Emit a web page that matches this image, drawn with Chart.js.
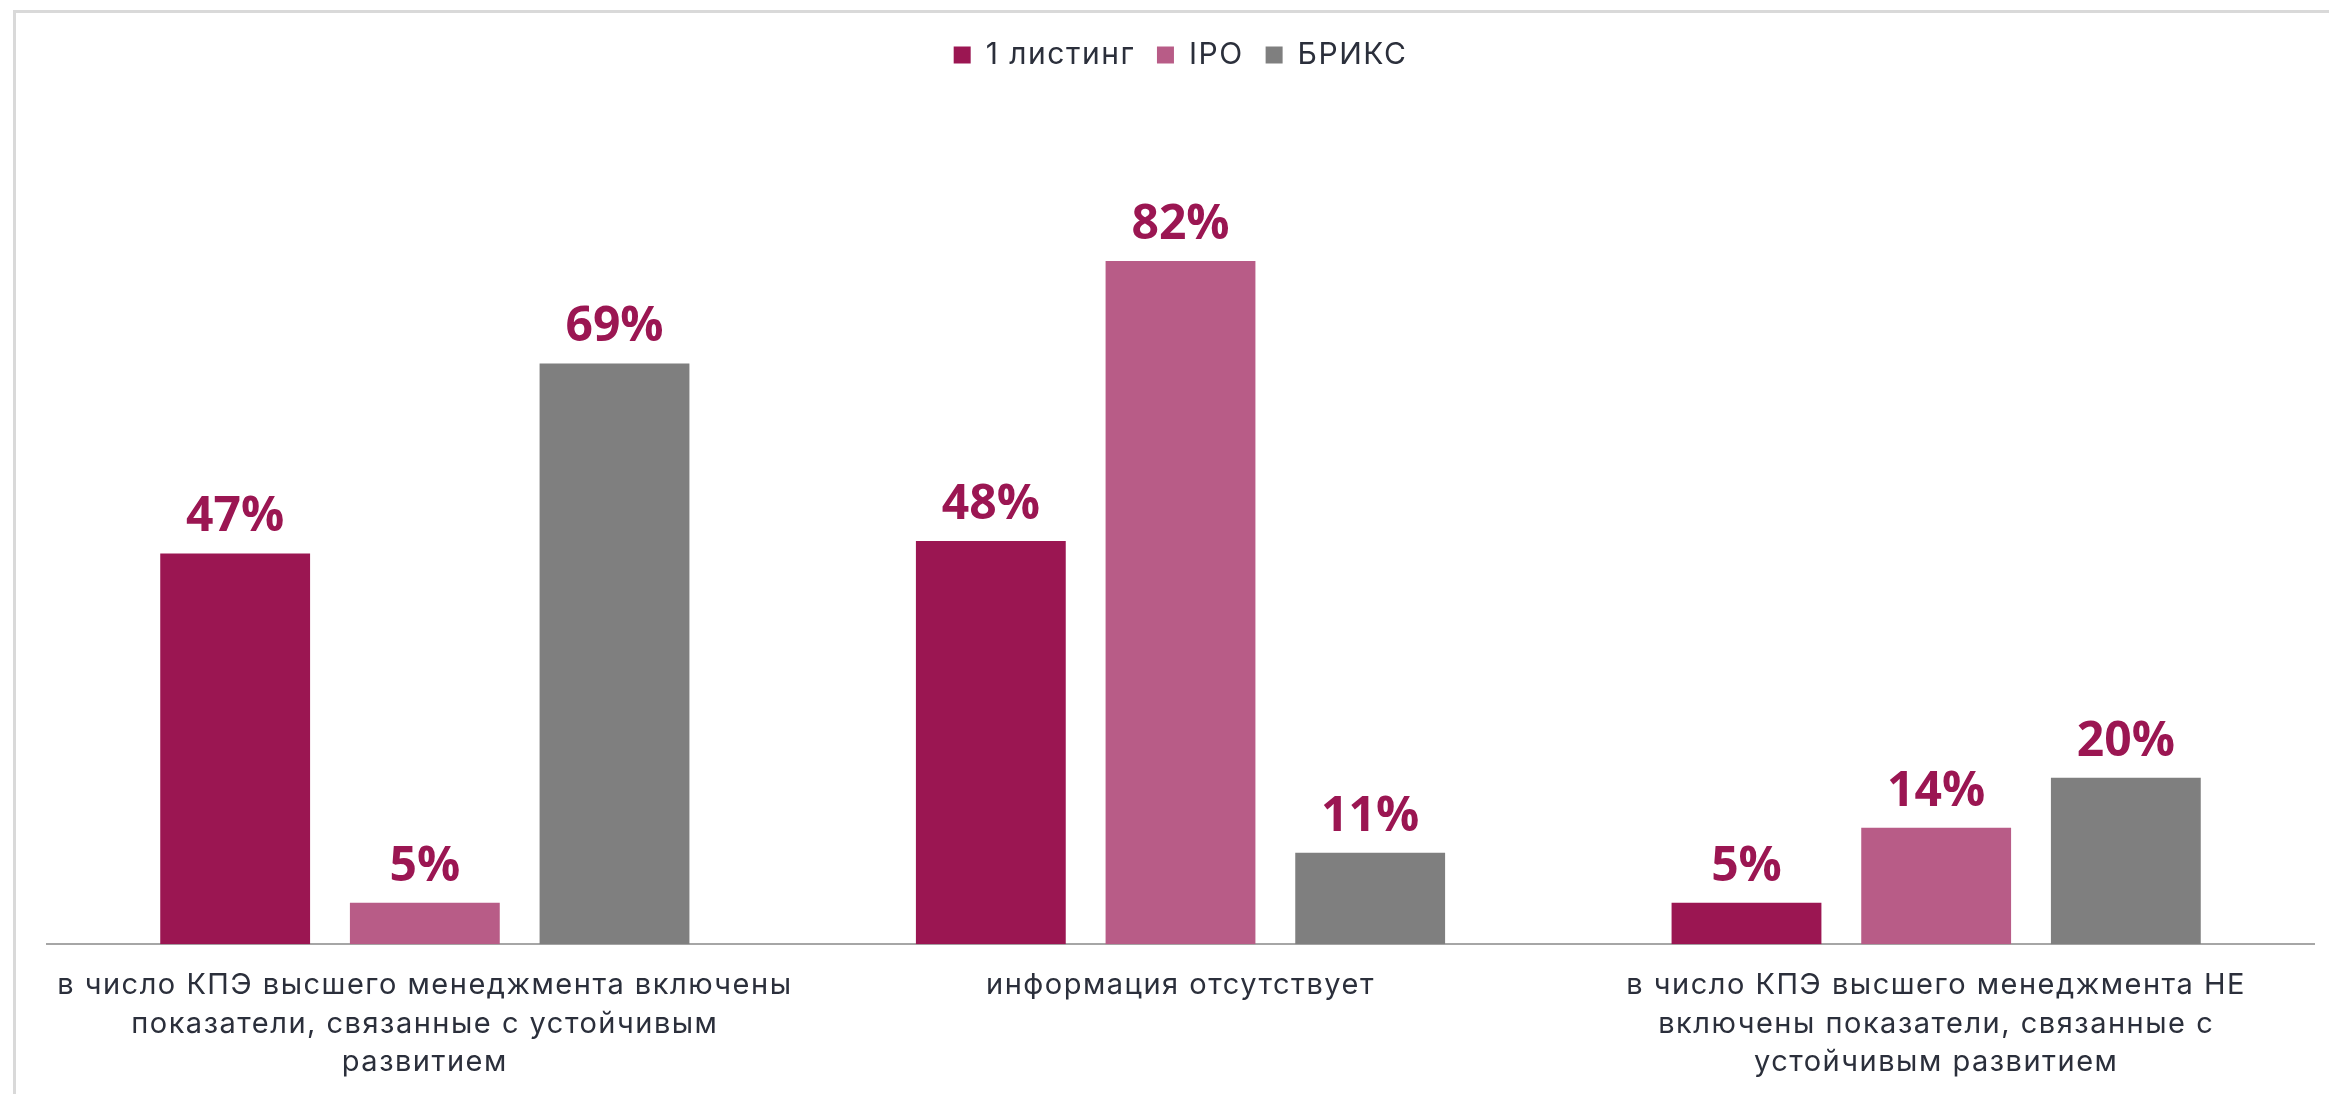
<!DOCTYPE html>
<html>
<head>
<meta charset="utf-8">
<script src="https://cdn.jsdelivr.net/npm/chart.js@4.4.1/dist/chart.umd.min.js"></script>
<style>
  html, body { margin: 0; padding: 0; background: #ffffff; }
  #wrap { width: 2329px; height: 1094px; position: relative; }
</style>
</head>
<body>
<div id="wrap"><canvas id="c" width="2329" height="1094"></canvas></div>
<script>
const categories = [
  ["в число КПЭ высшего менеджмента включены", "показатели, связанные с устойчивым", "развитием"],
  ["информация отсутствует"],
  ["в число КПЭ высшего менеджмента НЕ", "включены показатели, связанные с", "устойчивым развитием"]
];
const seriesNames = ["1 листинг", "IPO", "БРИКС"];
// bar heights (percent)
const listing1 = [46.9, 48.4, 5];
const ipo = [5, 82, 14];
const brics = [69.7, 11, 20];
// value labels as printed above the bars
const listing1Labels = ["47%", "48%", "5%"];
const ipoLabels = ["5%", "82%", "14%"];
const bricsLabels = ["69%", "11%", "20%"];
const colors = ["#9B1652", "#B85C87", "#7F7F7F"];

const TRACK = '1.5px';

const framePlugin = {
  id: 'frame',
  beforeLayout(chart) {
    chart.ctx.letterSpacing = TRACK;
    const lg = chart.legend;
    if (lg && !lg._extraPatched) {
      const orig = lg.fit.bind(lg);
      lg.fit = function () { orig(); this.height += 31; };
      lg._extraPatched = true;
    }
  },
  beforeDraw(chart) {
    const ctx = chart.ctx;
    ctx.letterSpacing = TRACK;
    ctx.save();
    ctx.fillStyle = '#ffffff';
    ctx.fillRect(0, 0, chart.width, chart.height);
    ctx.fillStyle = '#D9D9D9';
    ctx.fillRect(13, 10, chart.width - 13, 3);
    ctx.fillRect(13, 10, 3, chart.height - 10);
    ctx.restore();
  }
};

const valueLabels = {
  id: 'valueLabels',
  afterDatasetsDraw(chart) {
    const ctx = chart.ctx;
    ctx.save();
    ctx.letterSpacing = '0px';
    ctx.font = '700 48px "Open Sans", sans-serif';
    ctx.fillStyle = '#9B1652';
    ctx.textAlign = 'center';
    ctx.textBaseline = 'alphabetic';
    chart.data.datasets.forEach((ds, i) => {
      const meta = chart.getDatasetMeta(i);
      meta.data.forEach((bar, j) => {
        ctx.fillText(ds.valueLabels[j], bar.x, bar.y - 22);
      });
    });
    ctx.restore();
  }
};

new Chart(document.getElementById('c'), {
  type: 'bar',
  data: {
    labels: categories,
    datasets: [
      { label: seriesNames[0], data: listing1, valueLabels: listing1Labels, backgroundColor: colors[0] },
      { label: seriesNames[1], data: ipo, valueLabels: ipoLabels, backgroundColor: colors[1] },
      { label: seriesNames[2], data: brics, valueLabels: bricsLabels, backgroundColor: colors[2] }
    ]
  },
  options: {
    responsive: false,
    animation: false,
    devicePixelRatio: 1,
    layout: { padding: { left: 47, right: 15, top: 18, bottom: -10 } },
    datasets: { bar: { categoryPercentage: 0.753, barPercentage: 0.79 } },
    plugins: {
      legend: {
        position: 'top',
        labels: {
          boxWidth: 17, boxHeight: 17, padding: 22,
          color: '#2B2F3B',
          font: { family: 'Inter, sans-serif', size: 30 }
        }
      },
      tooltip: { enabled: false }
    },
    scales: {
      x: {
        grid: { display: false, drawTicks: false },
        border: { display: true, color: '#A6A6A6', width: 2 },
        ticks: {
          color: '#2B2F3B',
          padding: 22,
          maxRotation: 0, autoSkip: false,
          font: { family: 'Inter, sans-serif', size: 29, lineHeight: 1.33 }
        }
      },
      y: {
        display: false,
        min: 0, max: 100
      }
    }
  },
  plugins: [framePlugin, valueLabels]
});
</script>
</body>
</html>
